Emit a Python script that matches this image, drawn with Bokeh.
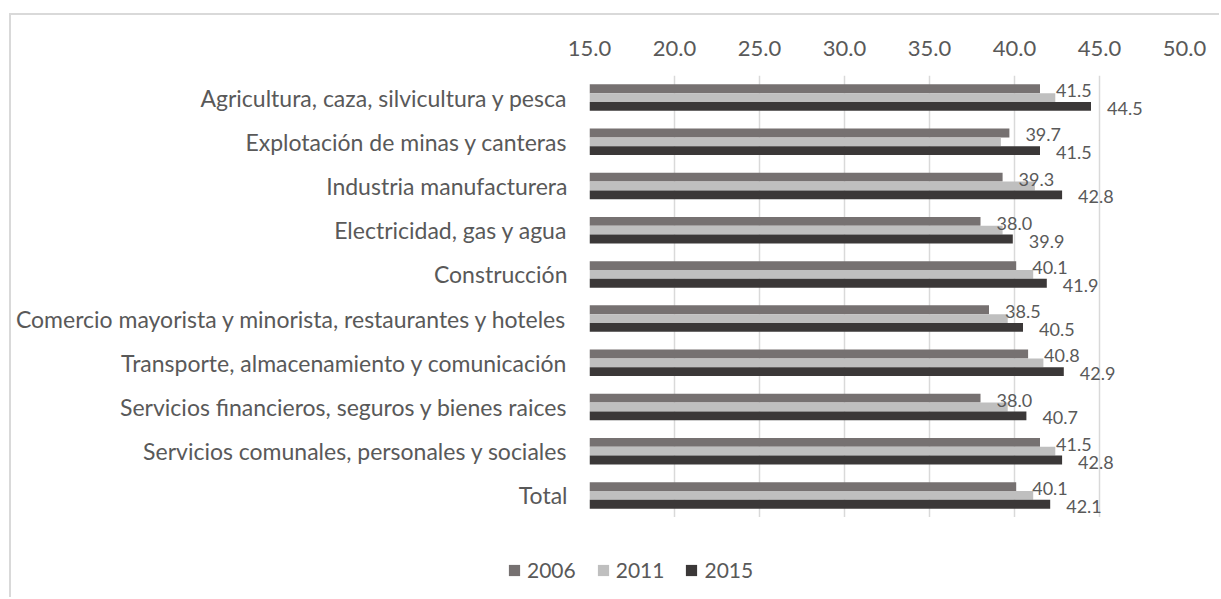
from bokeh.plotting import figure
from bokeh.layouts import column
from bokeh.models import Range1d, FactorRange, NumeralTickFormatter, Legend, LegendItem, ColumnDataSource, FixedTicker
from bokeh.transform import dodge
from bokeh.embed import file_html
from bokeh.resources import INLINE
from bokeh.core.properties import value

categories = [
    "Agricultura, caza, silvicultura y pesca",
    "Explotación de minas y canteras",
    "Industria manufacturera",
    "Electricidad, gas y agua",
    "Construcción",
    "Comercio mayorista y minorista, restaurantes y hoteles",
    "Transporte, almacenamiento y comunicación",
    "Servicios financieros, seguros y bienes raices",
    "Servicios comunales, personales y sociales",
    "Total",
]
v2006 = [41.5, 39.7, 39.3, 38.0, 40.1, 38.5, 40.8, 38.0, 41.5, 40.1]
v2011 = [42.4, 39.2, 41.2, 39.3, 41.1, 39.6, 41.7, 39.6, 42.4, 41.1]
v2015 = [44.5, 41.5, 42.8, 39.9, 41.9, 40.5, 42.9, 40.7, 42.8, 42.1]
years = ["2006", "2011", "2015"]
x_ticks = [15, 20, 25, 30, 35, 40, 45, 50]

colors = ["#767171", "#bfbfbf", "#3b3838"]
offsets = [0.2, 0.0, -0.2]
FONT = "Lato"
TXT = "#595959"

source = ColumnDataSource(dict(
    cat=categories,
    v2006=v2006, v2011=v2011, v2015=v2015,
    l2006=[f"{v:.1f}" for v in v2006],
    l2015=[f"{v:.1f}" for v in v2015],
))

# ---- main chart ----
p = figure(frame_width=595, frame_height=442,
           y_range=FactorRange(factors=categories[::-1]),
           x_range=Range1d(15, 50),
           x_axis_location="above",
           output_backend="svg", toolbar_location=None,
           min_border_left=578, min_border_right=35,
           min_border_top=60, min_border_bottom=0)
p.outline_line_color = None
p.background_fill_color = "white"
p.border_fill_color = "white"

p.xaxis.ticker = FixedTicker(ticks=x_ticks)
p.xaxis.formatter = NumeralTickFormatter(format="0.0")
p.xaxis.axis_line_color = None
p.xaxis.major_tick_line_color = None
p.xaxis.minor_tick_line_color = None
p.xaxis.major_tick_out = 0
p.xaxis.major_tick_in = 0
p.xaxis.major_label_standoff = 20
p.xaxis.major_label_text_font = FONT
p.xaxis.major_label_text_font_size = "22px"
p.xaxis.major_label_text_color = TXT

p.yaxis.axis_line_color = None
p.yaxis.major_tick_line_color = None
p.yaxis.minor_tick_line_color = None
p.yaxis.major_tick_out = 0
p.yaxis.major_tick_in = 0
p.yaxis.major_label_standoff = 22
p.yaxis.major_label_text_font = FONT
p.yaxis.major_label_text_font_size = "23px"
p.yaxis.major_label_text_color = TXT

p.ygrid.grid_line_color = None
p.xgrid.ticker = FixedTicker(ticks=x_ticks)
p.xgrid.grid_line_color = "#d9d9d9"
p.xgrid.grid_line_width = 1.5

for yr, c, off in zip(years, colors, offsets):
    p.hbar(y=dodge("cat", off, range=p.y_range), left=15, right="v" + yr,
           height=0.2, fill_color=c, line_color=None, source=source)

for yr, off in (("2006", 0.2), ("2015", -0.2)):
    p.text(x="v" + yr, y=dodge("cat", off, range=p.y_range), text="l" + yr,
           x_offset=16, y_offset=2, text_baseline="middle", text_align="left",
           text_font=value(FONT), text_font_size="18px", text_color=TXT,
           source=source)

# ---- legend strip below the chart ----
pl = figure(width=1208, height=80, x_range=Range1d(0, 1), y_range=Range1d(0, 1),
            x_axis_type=None, y_axis_type=None, min_border=0,
            output_backend="svg", toolbar_location=None)
pl.outline_line_color = None
pl.background_fill_color = "white"
pl.border_fill_color = "white"

legend_x = -82
if "frame_align" in pl.properties():
    pl.frame_align = False
    p.frame_align = False
    legend_x = 496

# one swatch renderer per series, placed outside the strip's visible range
leg_renderers = []
for yr, c in zip(years, colors):
    leg_renderers.append(pl.hbar(y=[5], left=[5], right=[6], height=0.2,
                                 fill_color=c, line_color=None))

legend = Legend(items=[LegendItem(label=yr, renderers=[r]) for yr, r in zip(years, leg_renderers)],
                location=(legend_x, 15), orientation="horizontal",
                glyph_width=14, glyph_height=14, label_standoff=6, spacing=20,
                padding=0, margin=0, border_line_color=None, background_fill_alpha=0,
                label_text_font=FONT, label_text_font_size="21px", label_text_color=TXT)
pl.add_layout(legend)

layout = column(p, pl, spacing=0,
                styles={"border-top": "2px solid #d9d9d9", "border-left": "2px solid #d9d9d9",
                        "margin-top": "13px", "margin-left": "9px"})

open("out.html", "w").write(file_html(layout, INLINE))
